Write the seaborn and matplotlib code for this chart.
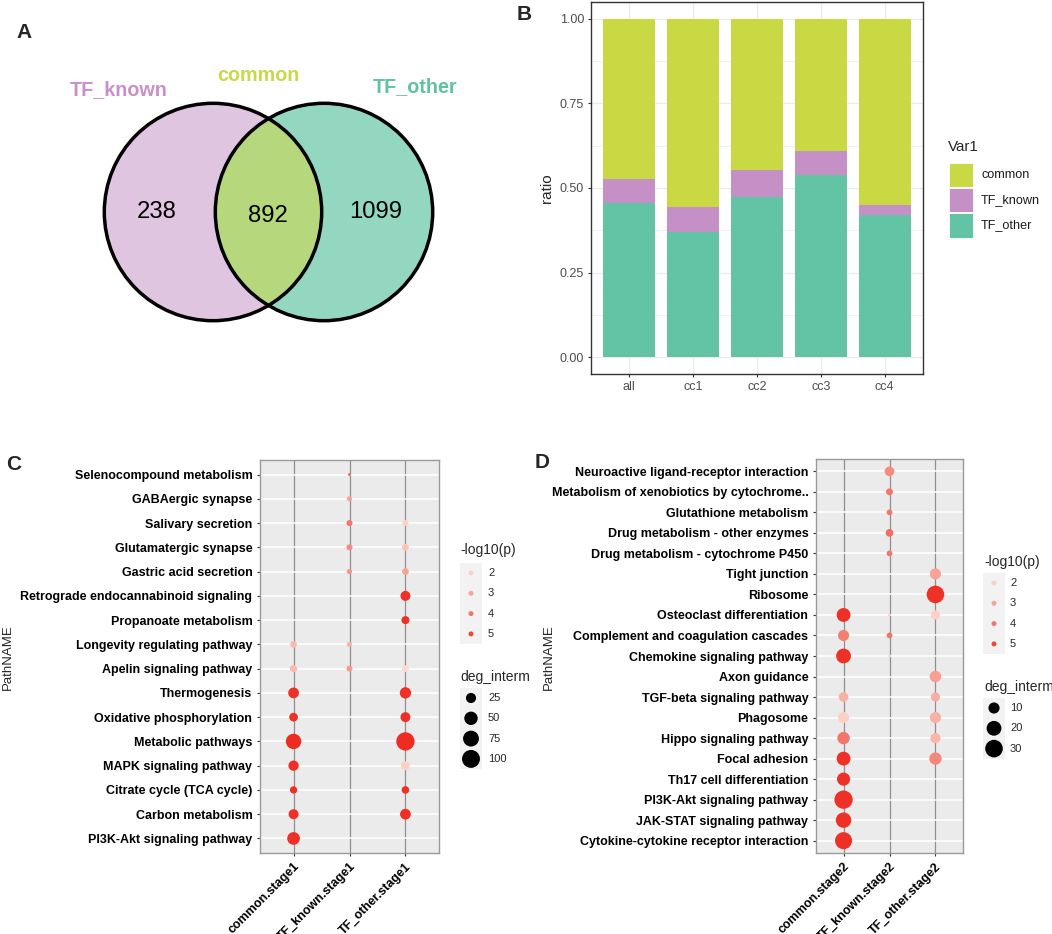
import numpy as np
import pandas as pd
import matplotlib
matplotlib.use("Agg")
import matplotlib.pyplot as plt
import seaborn as sns
from matplotlib.patches import Circle, Rectangle
from matplotlib.colors import LinearSegmentedColormap

nan = np.nan

# ---------------- data ----------------
venn_sets = ["TF_known", "common", "TF_other"]
venn_counts = [238, 892, 1099]

bar_groups = ["all", "cc1", "cc2", "cc3", "cc4"]
ratio_TF_other = [0.456, 0.369, 0.472, 0.538, 0.419]
ratio_TF_known = [0.071, 0.074, 0.081, 0.070, 0.030]
ratio_common = [0.473, 0.557, 0.447, 0.392, 0.551]
var1_levels = ["common", "TF_known", "TF_other"]

c_paths = ["Selenocompound metabolism", "GABAergic synapse", "Salivary secretion",
           "Glutamatergic synapse", "Gastric acid secretion",
           "Retrograde endocannabinoid signaling", "Propanoate metabolism",
           "Longevity regulating pathway", "Apelin signaling pathway", "Thermogenesis",
           "Oxidative phosphorylation", "Metabolic pathways", "MAPK signaling pathway",
           "Citrate cycle (TCA cycle)", "Carbon metabolism", "PI3K-Akt signaling pathway"]
c_groups = ["common.stage1", "TF_known.stage1", "TF_other.stage1"]
c_common_deg = [nan, nan, nan, nan, nan, nan, nan, 9, 11, 29, 17, 70, 26, 11, 24, 44]
c_common_logp = [nan, nan, nan, nan, nan, nan, nan, 2.5, 2.5, 5.5, 5.5, 5.6, 5.5, 5.5, 5.5, 5.5]
c_known_deg = [3, 5, 7, 7, 5, nan, nan, 5, 7, nan, nan, nan, nan, nan, nan, nan]
c_known_logp = [4.2, 3.0, 4.0, 3.5, 3.3, nan, nan, 2.7, 3.2, nan, nan, nan, nan, nan, nan, nan]
c_other_deg = [nan, nan, 7, 9, 9, 24, 14, nan, 9, 33, 24, 105, 18, 12, 29, nan]
c_other_logp = [nan, nan, 2.0, 2.3, 3.0, 5.5, 5.5, nan, 1.8, 5.5, 5.5, 5.6, 2.0, 5.5, 5.5, nan]

d_paths = ["Neuroactive ligand-receptor interaction",
           "Metabolism of xenobiotics by cytochrome..", "Glutathione metabolism",
           "Drug metabolism - other enzymes", "Drug metabolism - cytochrome P450",
           "Tight junction", "Ribosome", "Osteoclast differentiation",
           "Complement and coagulation cascades", "Chemokine signaling pathway",
           "Axon guidance", "TGF-beta signaling pathway", "Phagosome",
           "Hippo signaling pathway", "Focal adhesion", "Th17 cell differentiation",
           "PI3K-Akt signaling pathway", "JAK-STAT signaling pathway",
           "Cytokine-cytokine receptor interaction"]
d_groups = ["common.stage2", "TF_known.stage2", "TF_other.stage2"]
d_common_deg = [nan, nan, nan, nan, nan, nan, nan, 17, 10, 20, nan, 7, 10, 13, 17, 15, 33, 22, 28]
d_common_logp = [nan, nan, nan, nan, nan, nan, nan, 5.5, 3.8, 5.5, nan, 2.7, 2.0, 4.0, 5.5, 5.5, 5.5, 5.5, 5.5]
d_known_deg = [7, 3, 2, 4, 2, nan, nan, 1, 2, 1, nan, nan, nan, nan, nan, nan, nan, nan, nan]
d_known_logp = [3.5, 4.0, 4.0, 4.2, 4.0, nan, nan, 2.0, 4.0, 1.8, nan, nan, nan, nan, nan, nan, nan, nan, nan]
d_other_deg = [nan, nan, nan, nan, nan, 10, 30, 6, nan, nan, 11, 6, 10, 8, 13, nan, nan, nan, nan]
d_other_logp = [nan, nan, nan, nan, nan, 3.0, 5.5, 2.0, nan, nan, 3.1, 2.8, 2.7, 2.6, 3.6, nan, nan, nan, nan]

logp_breaks = [2, 3, 4, 5]
c_size_breaks = [25, 50, 75, 100]
d_size_breaks = [10, 20, 30]

# ---------------- style ----------------
sns.set_theme(style="white")
plt.rcParams['font.family'] = ['Liberation Sans', 'DejaVu Sans']

W, H = 1052, 934
fig = plt.figure(figsize=(W / 100, H / 100), dpi=100)


def box(l, t, r, b):
    return [l / W, 1 - b / H, (r - l) / W, (b - t) / H]


col_common = "#C9D944"
col_known = "#C490C5"
col_other = "#62C3A5"

cmap = LinearSegmentedColormap.from_list("reds", ["#FDDACD", "#EE2C22"])
HUE_NORM = (1.8, 5.6)


def size_px(v, lo, hi):
    # ggplot2 area palette with range c(1, 6) mm
    return 3.05 * (1 + 5 * np.sqrt(np.clip((v - lo) / (hi - lo), 0, None)))


def size_pt2(v, lo, hi):
    return (size_px(v, lo, hi) * 0.72) ** 2


# ---------------- A: Venn ----------------
ax_a = fig.add_axes(box(0, 0, 520, 430))
ax_a.set_xlim(0, 520)
ax_a.set_ylim(430, 0)
ax_a.axis('off')
r = 108.7
cl, cr = (213, 212), (324, 212)
ax_a.add_patch(Circle(cl, r, fc="#E0C5E1", ec='none'))
ax_a.add_patch(Circle(cr, r, fc="#94D7C1", ec='none'))
inter = Circle(cl, r, fc="#B6D77B", ec='none')
ax_a.add_patch(inter)
inter.set_clip_path(Circle(cr, r, transform=ax_a.transData))
ax_a.add_patch(Circle(cl, r, fill=False, ec='black', lw=2.5))
ax_a.add_patch(Circle(cr, r, fill=False, ec='black', lw=2.5))
venn_label_pos = [(119, 95), (258, 80.7), (415, 91.7)]
venn_label_col = ["#C98FC9", "#C8D84A", "#5FC2A0"]
for name, (x, y), c in zip(venn_sets, venn_label_pos, venn_label_col):
    ax_a.text(x, y, name, color=c, fontsize=14.2, fontweight='bold', ha='center', va='baseline')
venn_count_pos = [(157, 218.3), (268, 221.7), (376, 218.3)]
for n, (x, y) in zip([venn_counts[0], venn_counts[1], venn_counts[2]], venn_count_pos):
    ax_a.text(x, y, str(n), fontsize=17.2, ha='center', va='baseline', color='black')

# ---------------- B: stacked bars ----------------
ax_b = fig.add_axes(box(591, 2, 923, 374))
top_common = [a + b + c for a, b, c in zip(ratio_TF_other, ratio_TF_known, ratio_common)]
top_known = [a + b for a, b in zip(ratio_TF_other, ratio_TF_known)]
for tops, col in [(top_common, col_common), (top_known, col_known), (ratio_TF_other, col_other)]:
    sns.barplot(x=bar_groups, y=tops, color=col, width=0.82, saturation=1,
                linewidth=0, errorbar=None, ax=ax_b, zorder=2)
ax_b.set_xlim(-0.6, len(bar_groups) - 0.4)
ax_b.set_ylim(-0.05, 1.05)
ax_b.set_yticks([0, 0.25, 0.5, 0.75, 1.0])
ax_b.set_yticklabels(["0.00", "0.25", "0.50", "0.75", "1.00"])
ax_b.set_yticks([0.125, 0.375, 0.625, 0.875], minor=True)
ax_b.set_axisbelow(True)
ax_b.grid(which='major', color='#EBEBEB', lw=0.9)
ax_b.grid(which='minor', axis='y', color='#EBEBEB', lw=0.45)
ax_b.set_xlabel('')
ax_b.set_ylabel('')
ax_b.tick_params(axis='both', which='major', length=2.5, width=0.8, color='#333333',
                 labelcolor='#4D4D4D', labelsize=9, pad=2.5, left=True, bottom=True)
ax_b.tick_params(axis='y', which='minor', length=0)
for s in ax_b.spines.values():
    s.set_color('#333333')
    s.set_linewidth(1.0)


# ---------------- C / D: dot plots ----------------
def dotplot(ax, paths, groups, degs, logps):
    rows = []
    for g, dv, lv in zip(groups, degs, logps):
        for p, d, l in zip(paths, dv, lv):
            if not np.isnan(d):
                rows.append((g, p, d, l))
    df = pd.DataFrame(rows, columns=['group', 'PathNAME', 'deg_interm', 'logp'])
    df['group'] = pd.Categorical(df['group'], categories=groups)
    df['PathNAME'] = pd.Categorical(df['PathNAME'], categories=paths)
    lo, hi = df['deg_interm'].min(), df['deg_interm'].max()
    sizes = {v: size_pt2(v, lo, hi) for v in df['deg_interm'].unique()}
    sns.scatterplot(data=df, x='group', y='PathNAME', hue='logp', size='deg_interm',
                    palette=cmap, hue_norm=HUE_NORM, sizes=sizes, legend=False,
                    linewidth=0, ax=ax, zorder=3)
    ax.set_facecolor('#EBEBEB')
    ax.set_xticks(range(len(groups)))
    ax.set_xticklabels(groups, rotation=45, ha='right', va='top', rotation_mode='anchor',
                       fontweight='bold', fontsize=9)
    ax.set_yticks(range(len(paths)))
    ax.set_yticklabels(paths, fontweight='bold', fontsize=9)
    ax.set_xlim(-0.6, len(groups) - 0.4)
    ax.set_ylim(len(paths) - 0.4, -0.6)
    ax.set_axisbelow(True)
    ax.grid(axis='y', color='white', lw=1.1)
    ax.grid(axis='x', color='#8F8F8F', lw=0.9)
    ax.set_xlabel('')
    ax.set_ylabel('')
    ax.tick_params(length=2.5, width=0.8, color='#333333', labelcolor='black', pad=3,
                   left=True, bottom=True)
    for s in ax.spines.values():
        s.set_color('#9A9A9A')
        s.set_linewidth(1.0)
    return lo, hi


ax_c = fig.add_axes(box(260, 460, 439, 853))
c_lo, c_hi = dotplot(ax_c, c_paths, c_groups,
                     [c_common_deg, c_known_deg, c_other_deg],
                     [c_common_logp, c_known_logp, c_other_logp])
ax_d = fig.add_axes(box(816, 459, 963, 853))
d_lo, d_hi = dotplot(ax_d, d_paths, d_groups,
                     [d_common_deg, d_known_deg, d_other_deg],
                     [d_common_logp, d_known_logp, d_other_logp])

# ---------------- overlay: letters, axis titles, legends ----------------
ov = fig.add_axes([0, 0, 1, 1], zorder=10)
ov.set_xlim(0, W)
ov.set_ylim(H, 0)
ov.axis('off')
ov.patch.set_alpha(0)

for letter, (x, y) in zip("ABCD", [(24, 32), (524, 15), (14, 464), (542, 462)]):
    ov.text(x, y, letter, fontsize=15, fontweight='bold', ha='center', va='center')

ov.text(547, 188, "ratio", rotation=90, fontsize=11, ha='center', va='center')
ov.text(8, 657, "PathNAME", rotation=90, fontsize=9.5, ha='center', va='center')
ov.text(549, 657, "PathNAME", rotation=90, fontsize=9.5, ha='center', va='center')

# legend B
ov.text(948, 147, "Var1", fontsize=10.9, ha='left', va='center')
for i, (lev, col) in enumerate(zip(var1_levels, [col_common, col_known, col_other])):
    y0 = 162 + i * 25.4
    ov.add_patch(Rectangle((948.5, y0 + 0.5), 24.4, 24.4, fc=col, ec='white', lw=0.6))
    ov.text(981, y0 + 12.7, lev, fontsize=9.1, ha='left', va='center', color='#1A1A1A')


def dot_legends(x0, ty1, ky1, ty2, ky2, lo, hi, size_breaks, kx, lx):
    ov.text(x0, ty1, "-log10(p)", fontsize=10, ha='left', va='center')
    ov.add_patch(Rectangle((kx - 11, ky1 - 10.5), 22, 20.3 * len(logp_breaks) + 0.5,
                           fc='#F2F2F2', ec='none'))
    ys = [ky1 + i * 20.3 for i in range(len(logp_breaks))]
    ov.scatter([kx] * len(ys), ys, s=13, c=logp_breaks, cmap=cmap, vmin=HUE_NORM[0],
               vmax=HUE_NORM[1], linewidths=0)
    for y, b in zip(ys, logp_breaks):
        ov.text(lx, y, str(b), fontsize=8, ha='left', va='center')
    ov.text(x0, ty2, "deg_interm", fontsize=10, ha='left', va='center')
    ys2 = [ky2 + i * 20.3 for i in range(len(size_breaks))]
    ov.add_patch(Rectangle((kx - 11, ky2 - 10.5), 22, 20.3 * len(size_breaks) + 0.5,
                           fc='#F2F2F2', ec='none'))
    ov.scatter([kx] * len(ys2), ys2, s=[size_pt2(b, lo, hi) for b in size_breaks],
               c='black', linewidths=0)
    for y, b in zip(ys2, size_breaks):
        ov.text(lx, y, str(b), fontsize=8, ha='left', va='center')


dot_legends(460, 550, 573, 677, 698, c_lo, c_hi, c_size_breaks, 471, 488)
dot_legends(984, 562, 583, 687, 708, d_lo, d_hi, d_size_breaks, 994, 1010)

fig.savefig("out.png", dpi=100)
